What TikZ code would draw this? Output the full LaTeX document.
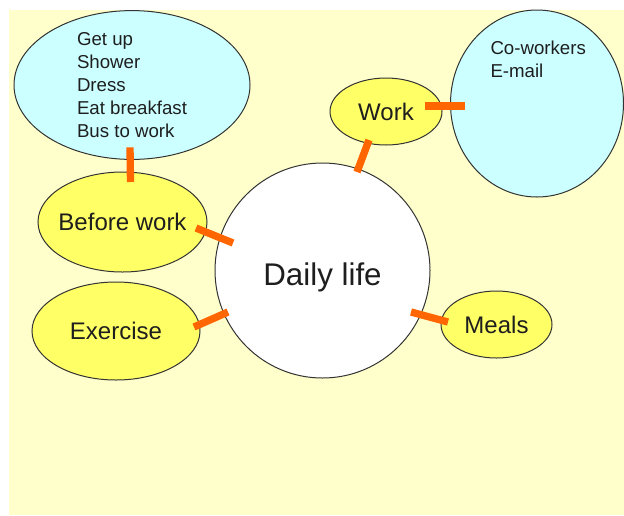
\documentclass[tikz,border=0pt]{standalone}
\usepackage{fontspec}
\setmainfont{Liberation Sans}
\usetikzlibrary{shapes.geometric,calc}

\definecolor{paper}{RGB}{255,255,204}
\definecolor{topicfill}{RGB}{255,255,102}
\definecolor{notefill}{RGB}{204,255,255}
\definecolor{barorange}{RGB}{255,102,0}
\definecolor{rim}{RGB}{51,51,51}
\definecolor{ink}{RGB}{30,30,30}

\tikzset{every picture/.style={line width=0.75pt}}
\tikzset{
  bubble/.style={ellipse, draw=rim, line width=0.75pt, inner sep=0pt, outer sep=0pt, text=ink},
  topicbubble/.style={bubble, fill=topicfill, font=\fontsize{18}{21}\selectfont},
  notebubble/.style={bubble, fill=notefill, font=\fontsize{14}{17.25}\selectfont, align=left},
  linkbar/.style={draw=barorange, line width=5.5pt}
}

\begin{document}
\begin{tikzpicture}[x=0.75pt,y=0.75pt,yscale=-1,xscale=1]
\useasboundingbox (0,0) rectangle (624,515);

%Shape: Rectangle
\fill [paper] (9,10) rectangle (624,515);

%Shape: Ellipse
\node [notebubble, minimum width=177pt, minimum height=105pt] (todo) at (132,85) {Get up\\Shower\\Dress\\Eat breakfast\\Bus to work};
%Shape: Ellipse
\node [topicbubble, inner xsep=-10pt, minimum width=126.75pt, minimum height=75pt] (before) at (122.5,222) {Before work};
%Shape: Ellipse
\node [topicbubble, minimum width=126pt, minimum height=73.5pt] (exercise) at (116,331) {Exercise};
%Shape: Circle
\node [bubble, circle, fill=white, minimum size=161.25pt, text height=21.75pt, text depth=0pt, font=\fontsize{23.5}{28}\selectfont] (daily) at (322.5,270.5) {Daily life};
%Shape: Ellipse
\node [topicbubble, minimum width=84pt, minimum height=50.25pt] (work) at (386,111.5) {Work};
%Shape: Ellipse
\node [notebubble, minimum width=129.75pt, minimum height=140.25pt] (contacts) at (537,103.5) {};
%Shape: Ellipse
\node [topicbubble, minimum width=83.25pt, minimum height=50.25pt] (meals) at (496.5,324.5) {Meals};

% Text Node
\node [anchor=north west, inner sep=0pt, align=left, text=ink, font=\fontsize{14}{17.25}\selectfont] (contactlist) at (490,40) {Co-workers\\E-mail};

%Straight Lines
\draw [linkbar] ($(todo.south)+(-2,-12)$) -- ($(before.north)+(8,10)$);
%Straight Lines
\draw [linkbar] ($(before.east)+(-11,6)$) -- ($(daily.west)+(18,-27.5)$);
%Straight Lines
\draw [linkbar] ($(exercise.east)+(-6,-4)$) -- ($(daily.west)+(13,41.5)$);
%Straight Lines
\draw [linkbar] ($(work.south)+(-17,-5)$) -- ($(daily.north)+(34.5,9)$);
%Straight Lines
\draw [linkbar] ($(work.east)+(-17,-5.5)$) -- ($(contacts.west)+(14,2.5)$);
%Straight Lines
\draw [linkbar] ($(daily.east)+(-19,41.5)$) -- ($(meals.west)+(7,-2.5)$);

\end{tikzpicture}
\end{document}
